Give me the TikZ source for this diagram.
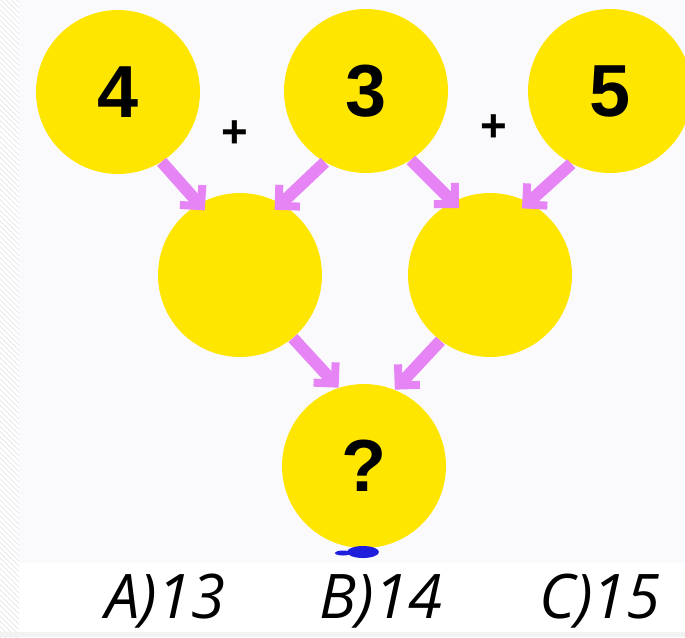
\documentclass[tikz,border=0pt]{standalone}
\usepackage{fontspec}
\setmainfont{Liberation Sans}
\newfontfamily\optfont{Open Sans}
\usetikzlibrary{arrows.meta}
\usetikzlibrary{patterns}
\definecolor{ballyellow}{RGB}{255,230,0}
\definecolor{arrowpink}{RGB}{230,132,246}
\definecolor{bggray}{RGB}{250,250,252}
\definecolor{blobblue}{RGB}{30,30,220}
\tikzset{
 ball/.style={circle, fill=ballyellow, minimum size=3.28cm, inner sep=0, font=\fontsize{42}{42}\selectfont\bfseries},
 link/.style={draw=arrowpink, line width=0.24cm, -{Straight Barb[angle'=90, length=0.3cm, line width=0.16cm]}},
 plus/.style={font=\fontsize{26}{26}\selectfont\bfseries},
 option/.style={anchor=base, font=\fontsize{35}{35}\selectfont\optfont\itshape}
}

\begin{document}
\begin{tikzpicture} [x=0.02cm, y=-0.02cm]
\useasboundingbox (0,0) rectangle (685,637);
\fill[bggray] (19,0) rectangle (685,563);
\fill[pattern=north west lines, pattern color=gray!20] (0,0) rectangle (19,637);
\fill[gray!10] (0,632) rectangle (685,637);
\node[ball] (four)  at (118,92)  {4};
\node[ball] (three) at (366,91)  {3};
\node[ball] (five)  at (610,91)  {5};
\node[ball] (left)  at (240,275) {};
\node[ball] (right) at (490,275) {};
\node[ball] (ans)   at (364,466) {?};
\node[plus] (plusA) at (235,134) {+};
\node[plus] (plusB) at (494,128) {+};
\draw[link, shorten >=-0.18cm] (four.-58) -- (left.120);
\draw[link, shorten >=-0.18cm] (three.-120) -- (left.60);
\draw[link, shorten >=-0.18cm] (three.-57) -- (right.117);
\draw[link, shorten >=-0.18cm] (five.-118) -- (right.62);
\draw[link] (left.-50) -- (ans.108);
\draw[link] (right.-127) -- (ans.68);
\fill[blobblue] (363,552) ellipse [x radius=16, y radius=6];
\fill[blobblue] (343,553) ellipse [x radius=8, y radius=2.5];
\foreach \x/\l/\t in {165/A/A)13, 381/B/B)14, 600/C/C)15}
 \node[option] (opt\l) at (\x,618) {\t};
\end{tikzpicture}
\end{document}
